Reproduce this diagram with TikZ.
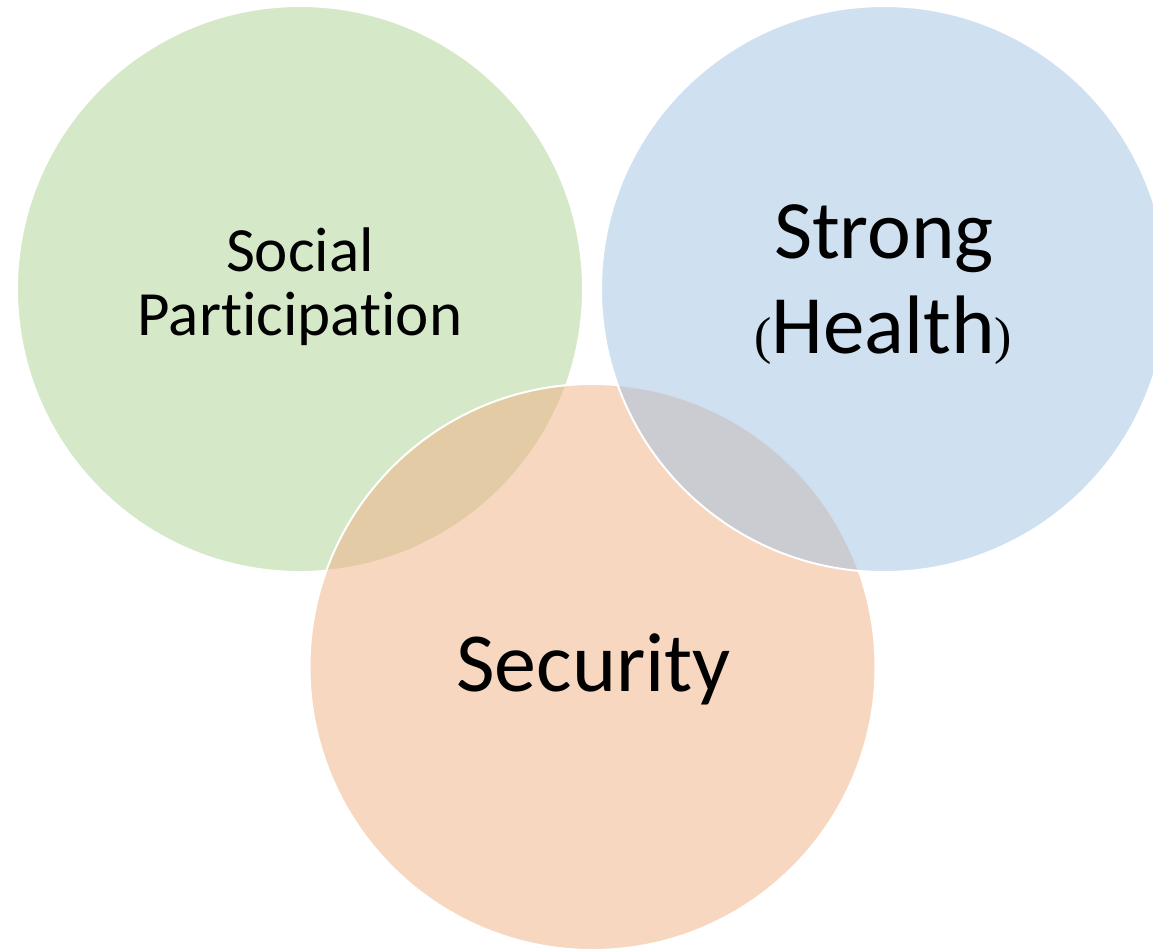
\documentclass[tikz,border=0pt]{standalone}
\usepackage{fontspec}
\setmainfont{Carlito}[Ligatures=NoCommon]
\newfontfamily\parfont{Liberation Serif}
\definecolor{cgreen}{RGB}{213,232,200}
\definecolor{corange}{RGB}{240,179,135}
\definecolor{cblue}{RGB}{159,193,227}
\tikzset{
  venn/.style={circle, inner sep=0pt, minimum size=566pt, draw=white, line width=2pt},
  lbl/.style={anchor=base, inner sep=0pt, text=black},
}
\newcommand{\pp}[1]{{\parfont\fontsize{52}{52}\selectfont #1}}
\begin{document}
\begin{tikzpicture}[x=1pt,y=-1pt]
\useasboundingbox (0,0) rectangle (1153,950);
\clip (0,0) rectangle (1153,950);
\node[venn, fill=cgreen] (green) at (300,289) {};
\node[venn, fill=corange, fill opacity=0.524] (orange) at (592.5,667) {};
\node[venn, fill=cblue, fill opacity=0.5] (blue) at (884,289) {};
\node[lbl, font=\fontsize{63}{63}\selectfont] (soc) at (300,271.5) {Social};
\node[lbl, font=\fontsize{63}{63}\selectfont] (part) at (300,335) {Participation};
\node[lbl, font=\fontsize{83}{83}\selectfont] (strong) at (884,258) {Strong};
\node[lbl, font=\fontsize{83}{83}\selectfont] (health) at (883,353) {\pp{(}Health\pp{)}};
\node[lbl, font=\fontsize{84}{84}\selectfont] (sec) at (593.5,691) {Security};
\end{tikzpicture}
\end{document}
